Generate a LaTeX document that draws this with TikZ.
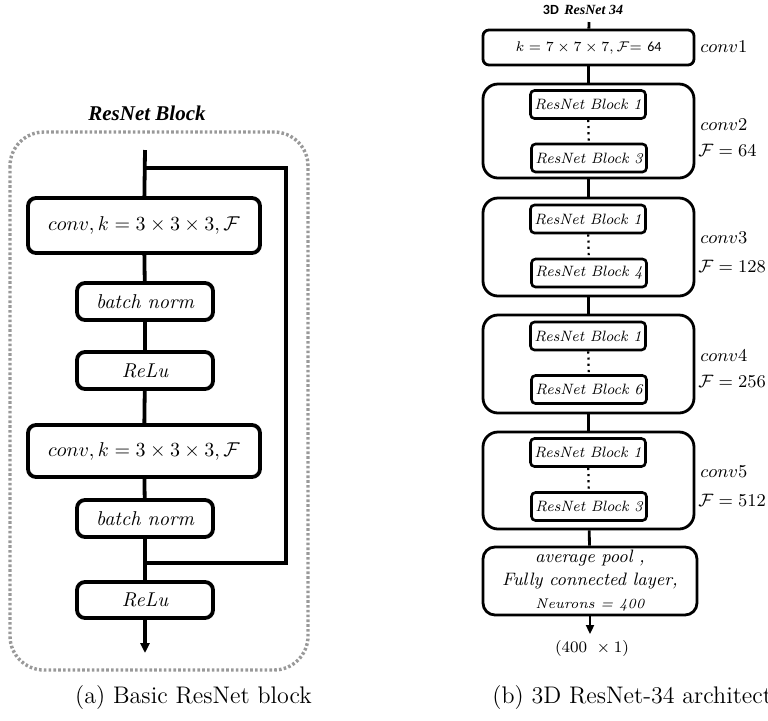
\documentclass[tikz,border=0pt]{standalone}
\usepackage{fontspec}
\newfontfamily\calibri{Carlito}
\newfontfamily\timesf{Liberation Serif}
\usetikzlibrary{arrows.meta}
\begin{document}
\begin{tikzpicture}[x=0.5pt,y=-0.5pt,
  lbox/.style={draw, line width=1.9pt, rounded corners=4pt, inner sep=0pt, font=\fontsize{10}{12}\selectfont\itshape},
  lwide/.style={lbox, minimum width=116pt, font=\fontsize{10}{12}\selectfont},
  lnarrow/.style={lbox, minimum width=68pt, minimum height=18.5pt},
  lline/.style={line width=1.9pt},
  rline/.style={line width=1.4pt},
  grp/.style={draw, line width=1.4pt, rounded corners=7.5pt, inner sep=0pt, minimum width=105.5pt},
  inb/.style={draw, line width=1.3pt, rounded corners=2pt, inner sep=0pt, minimum width=57.5pt, minimum height=14pt, font=\fontsize{7.5}{9}\selectfont\itshape},
  rlab/.style={anchor=west, inner sep=0pt, font=\fontsize{9.5}{11}\selectfont},
  flab/.style={anchor=west, inner sep=0pt, font=\fontsize{9}{11}\selectfont},
  captext/.style={font=\fontsize{12}{14}\selectfont, inner sep=0pt}
]
\useasboundingbox (0,0) rectangle (768,720);

% ---------------- left panel ----------------
\draw[gray!80, line width=1.7pt, dash pattern=on 1.3pt off 1.1pt, rounded corners=17pt] (10,132) rectangle (308,670);
\node[inner sep=0pt, font=\fontsize{10.5}{12}\timesf\bfseries\itshape] (ltitle) at (147,113) {ResNet Block};

\coordinate (ltop) at (145,150);
\coordinate (split) at (145,168);
\coordinate (sk1) at (286,168);
\coordinate (sk2) at (286,563);
\coordinate (join) at (145,563);
\coordinate (lend) at (145,653);

\node[lwide, minimum height=27.5pt] (c1) at (144,225.5) {$conv, k=3\times3\times3,\mathcal{F}$};
\node[lnarrow] (b1) at (145,301.5) {batch norm};
\node[lnarrow] (r1) at (145,370.5) {ReLu};
\node[lwide, minimum height=26pt] (c2) at (144,451) {$conv, k=3\times3\times3,\mathcal{F}$};
\node[lnarrow] (b2) at (145,518.5) {batch norm};
\node[lnarrow, minimum height=18pt] (r2) at (145,600) {ReLu};

\draw[lline] (ltop) -- (c1);
\draw[lline] (c1) -- (b1);
\draw[lline] (b1) -- (r1);
\draw[lline] (r1) -- (c2);
\draw[lline] (c2) -- (b2);
\draw[lline] (b2) -- (r2);
\draw[lline] (split) -- (sk1) -- (sk2) -- (join);
\draw[lline, -{Triangle[length=5pt,width=4.5pt]}] (r2) -- (lend);

\node[captext] (capa) at (193.5,698) {(a) Basic ResNet block};

% ---------------- right panel ----------------
\node[inner sep=0pt, font=\fontsize{7}{9}\selectfont] (rtitle) at (583,10) {{\calibri\bfseries 3D} {\timesf\bfseries\itshape ResNet 34}};
\coordinate (rtop) at (589,22);

\node[draw, line width=1.4pt, rounded corners=3pt, inner sep=0pt, minimum width=105.5pt, minimum height=17.5pt, font=\fontsize{7}{9}\selectfont] (conv1) at (588.5,47.5) {$k=7\times7\times7,\mathcal{F}$= {\calibri 64}};
\node[rlab] (l1) at (700,47) {$conv1$};

\node[grp, minimum height=47pt] (g2) at (588.5,131) {};
\node[inb] (g2a) at (588,104.5) {ResNet Block 1};
\node[inb] (g2b) at (589,158) {ResNet Block 3};
\node[rlab] (l2) at (700,125) {$conv2$};
\node[flab] (f2) at (698,150) {$\mathcal{F}=64$};

\node[grp, minimum height=49pt] (g3) at (588.5,247) {};
\node[inb] (g3a) at (588,219) {ResNet Block 1};
\node[inb] (g3b) at (589,273) {ResNet Block 4};
\node[rlab] (l3) at (700,238) {$conv3$};
\node[flab] (f3) at (698,266) {$\mathcal{F}=128$};

\node[grp, minimum height=49pt] (g4) at (588.5,364) {};
\node[inb] (g4a) at (588,336) {ResNet Block 1};
\node[inb] (g4b) at (589,389.5) {ResNet Block 6};
\node[rlab] (l4) at (700,356) {$conv4$};
\node[flab] (f4) at (698,381) {$\mathcal{F}=256$};

\node[grp, minimum height=48.5pt] (g5) at (588.5,480.5) {};
\node[inb] (g5a) at (588,452.5) {ResNet Block 1};
\node[inb] (g5b) at (589,506.5) {ResNet Block 3};
\node[rlab] (l5) at (700,472) {$conv5$};
\node[flab] (f5) at (698,500) {$\mathcal{F}=512$};

\node[draw, line width=1.4pt, rounded corners=6pt, inner sep=0pt, minimum width=107pt, minimum height=34pt, align=center, font=\fontsize{9}{11.5}\selectfont\itshape] (fc) at (590,581) {average pool ,\\ Fully connected layer,\\ {\fontsize{7}{8}\selectfont Neurons = 400}};

\coordinate (rend) at (590,634);
\node[inner sep=0pt, font=\fontsize{8.5}{10}\selectfont] (outl) at (592,648) {$(400\ \times 1)$};

\draw[rline] (rtop) -- (conv1);
\draw[rline] (conv1) -- (g2);
\draw[rline] (g2) -- (g3);
\draw[rline] (g3) -- (g4);
\draw[rline] (g4) -- (g5);
\draw[rline] (g5) -- (fc);
\draw[rline, -{Triangle[length=4.5pt,width=4pt]}] (fc) -- (rend);
\foreach \g in {g2,g3,g4,g5}{
  \draw[line width=1.1pt, dotted] (\g a) -- (\g b);
}

\node[captext, anchor=west] (capb) at (492,698) {(b) 3D ResNet-34 architecture};
\end{tikzpicture}
\end{document}
